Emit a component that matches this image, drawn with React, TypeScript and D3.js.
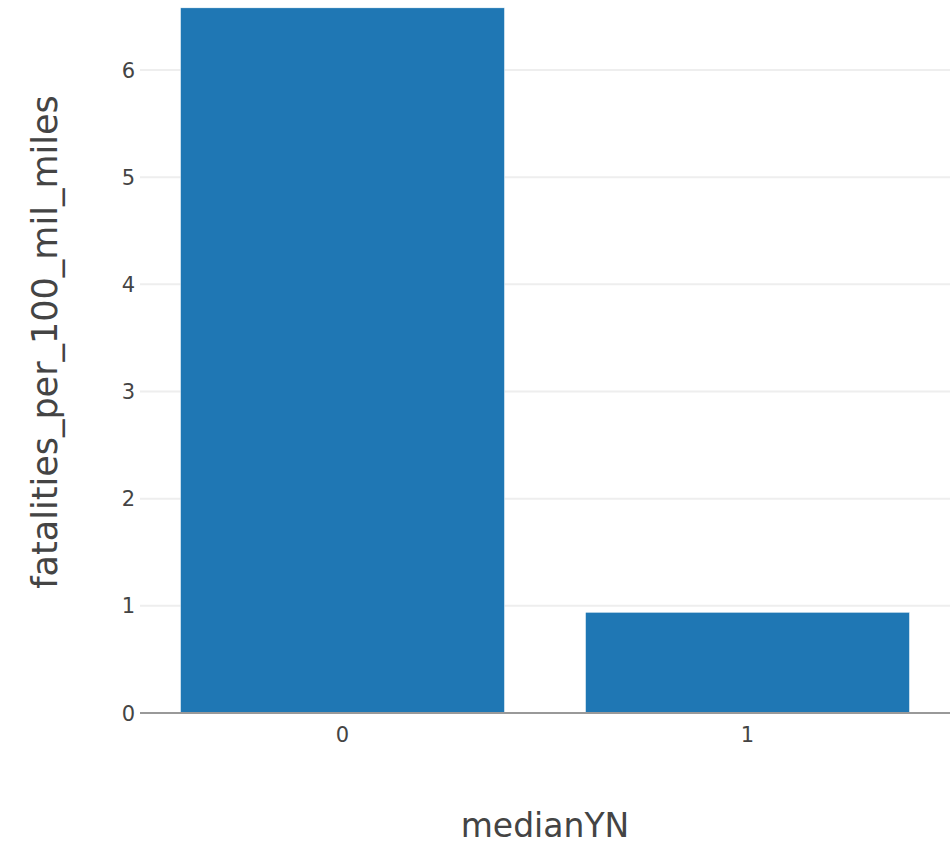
import React from "react";
import * as d3 from "d3";

const categories: string[] = ["0", "1"];
const values: number[] = [6.58, 0.94];
const yTicks: number[] = [0, 1, 2, 3, 4, 5, 6];
const xTitle = "medianYN";
const yTitle = "fatalities_per_100_mil_miles";

const W = 950;
const H = 847;
const left = 140;
const right = 950;
const bottom = 713;
const font = "'DejaVu Sans', Verdana, sans-serif";

export default function App() {
  const x = d3.scaleBand<string>().domain(categories).range([left, right]).paddingInner(0.2).paddingOuter(0.1);
  const y = d3.scaleLinear().domain([0, 6]).range([bottom, 70]);

  return (
    <svg
      width={W}
      height={H}
      style={{ position: "absolute", left: 0, top: 0, background: "#fff" }}
    >
      {yTicks.filter((t) => t !== 0).map((t) => (
        <line key={"g" + t} x1={left} x2={right} y1={y(t)} y2={y(t)} stroke="#eee" strokeWidth={2} />
      ))}
      {categories.map((c, i) => (
        <rect
          key={c}
          x={x(c)}
          y={y(values[i])}
          width={x.bandwidth()}
          height={y(0) - y(values[i])}
          fill="#1f77b4"
          stroke="#fff"
          strokeWidth={0.5}
        />
      ))}
      <line x1={left} x2={right} y1={y(0)} y2={y(0)} stroke="#999" strokeWidth={2} />
      {yTicks.map((t) => (
        <text
          key={"t" + t}
          x={left - 5}
          y={y(t)}
          dy="0.36em"
          textAnchor="end"
          fontFamily={font}
          fontSize={21}
          fill="#444"
        >
          {t}
        </text>
      ))}
      {categories.map((c) => (
        <text
          key={"x" + c}
          x={(x(c) as number) + x.bandwidth() / 2}
          y={742}
          textAnchor="middle"
          fontFamily={font}
          fontSize={21}
          fill="#444"
        >
          {c}
        </text>
      ))}
      <text x={(left + right) / 2} y={837} textAnchor="middle" fontFamily={font} fontSize={33} fill="#444">
        {xTitle}
      </text>
      <text
        transform={`translate(57, 342) rotate(-90)`}
        textAnchor="middle"
        fontFamily={font}
        fontSize={35}
        fill="#444"
      >
        {yTitle}
      </text>
    </svg>
  );
}
